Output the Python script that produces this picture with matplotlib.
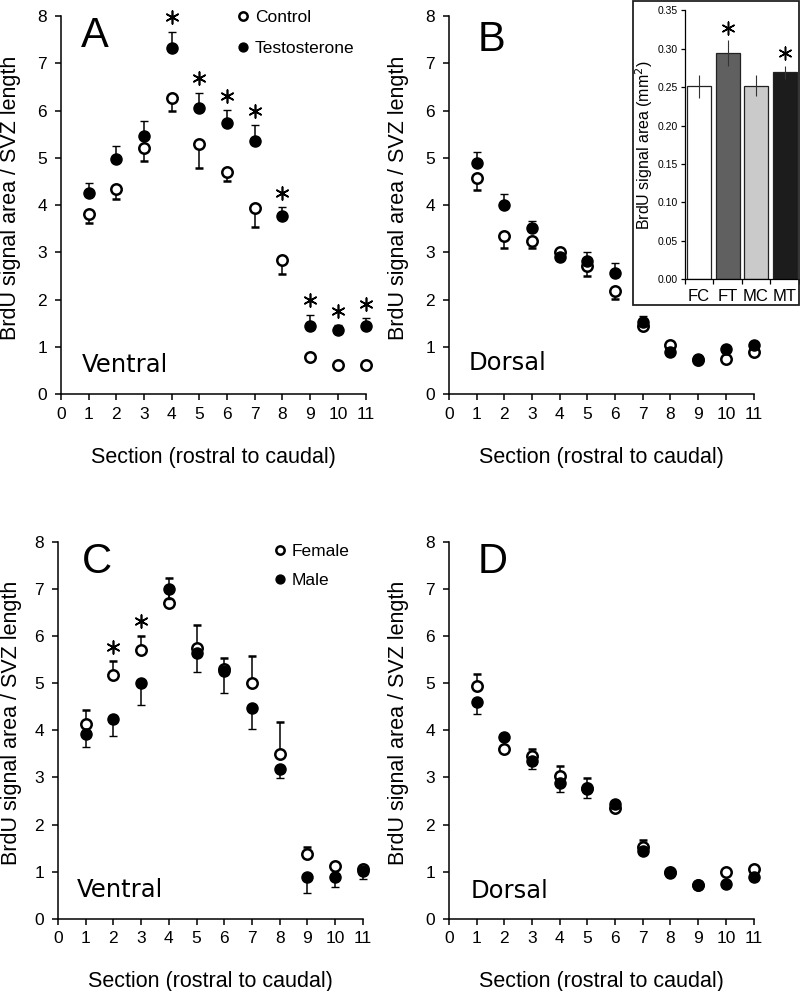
import matplotlib
matplotlib.use("Agg")
import matplotlib.pyplot as plt
from matplotlib.patches import Rectangle
import numpy as np

plt.rcParams['font.family'] = ['Liberation Sans', 'DejaVu Sans']

sections = np.arange(1, 12)

# Panel A - ventral, control vs testosterone
a_ctrl = [3.81, 4.33, 5.21, 6.26, 5.29, 4.70, 3.94, 2.84, 0.78, 0.61, 0.61]
a_ctrl_err = [0.18, 0.20, 0.27, 0.28, 0.51, 0.20, 0.40, 0.30, 0.05, 0.03, 0.03]
a_test = [4.25, 4.98, 5.46, 7.33, 6.06, 5.74, 5.36, 3.77, 1.45, 1.36, 1.45]
a_test_err = [0.21, 0.27, 0.32, 0.34, 0.32, 0.27, 0.33, 0.18, 0.23, 0.10, 0.15]
a_sig = [4, 5, 6, 7, 8, 9, 10, 11]

# Panel B - dorsal, control vs testosterone
b_ctrl = [4.57, 3.35, 3.23, 3.00, 2.70, 2.18, 1.44, 1.04, 0.73, 0.75, 0.90]
b_ctrl_err = [0.26, 0.26, 0.14, 0.05, 0.21, 0.17, 0.05, 0.04, 0.03, 0.04, 0.04]
b_test = [4.88, 4.00, 3.51, 2.89, 2.82, 2.57, 1.52, 0.90, 0.74, 0.96, 1.04]
b_test_err = [0.24, 0.23, 0.16, 0.05, 0.18, 0.20, 0.14, 0.04, 0.03, 0.04, 0.06]
b_sig = []

# Panel C - ventral, female vs male
c_fem = [4.13, 5.17, 5.70, 6.69, 5.75, 5.30, 5.01, 3.50, 1.38, 1.13, 1.06]
c_fem_err = [0.30, 0.29, 0.31, 0.53, 0.48, 0.24, 0.57, 0.68, 0.14, 0.05, 0.05]
c_male = [3.92, 4.25, 5.00, 6.99, 5.65, 5.26, 4.47, 3.18, 0.90, 0.88, 1.02]
c_male_err = [0.27, 0.37, 0.47, 0.20, 0.41, 0.46, 0.44, 0.20, 0.35, 0.21, 0.17]
c_sig = [2, 3]

# Panel D - dorsal, female vs male
d_fem = [4.94, 3.60, 3.46, 3.03, 2.77, 2.35, 1.53, 1.00, 0.71, 1.00, 1.06]
d_fem_err = [0.25, 0.05, 0.14, 0.21, 0.21, 0.05, 0.14, 0.04, 0.03, 0.04, 0.04]
d_male = [4.59, 3.85, 3.35, 2.88, 2.76, 2.43, 1.45, 0.98, 0.72, 0.745, 0.90]
d_male_err = [0.25, 0.05, 0.16, 0.18, 0.19, 0.05, 0.05, 0.04, 0.03, 0.04, 0.04]
d_sig = []

# Inset - total BrdU signal area
inset_groups = ['FC', 'FT', 'MC', 'MT']
inset_vals = [0.251, 0.294, 0.252, 0.2695]
inset_err = [0.015, 0.017, 0.014, 0.0085]
inset_colors = ['#ffffff', '#606060', '#cacaca', '#1c1c1c']
inset_sig = ['FT', 'MT']


def draw_panel(ax, open_v, open_e, fill_v, fill_e, open_up, sig,
               letter, letter_xy, region, region_xy, ylabel_x=-0.13,
               legend_labels=None, legend_xy=None, legend_spacing=0.6):
    open_v, open_e = np.array(open_v), np.array(open_e)
    fill_v, fill_e = np.array(fill_v), np.array(fill_e)
    zero = np.zeros_like(open_e)
    open_yerr = [zero, open_e] if open_up else [open_e, zero]
    fill_yerr = [fill_e, zero] if open_up else [zero, fill_e]

    style = dict(ecolor='black', elinewidth=1.1, capsize=2.8, capthick=1.1,
                 linestyle='none', marker='o', clip_on=False)
    opn = ax.errorbar(sections, open_v, yerr=open_yerr, mfc='white', mec='black',
                      mew=1.8, markersize=7.5, zorder=2, **style)
    fill = ax.errorbar(sections, fill_v, yerr=fill_yerr, mfc='black', mec='black',
                       mew=1.0, markersize=8, zorder=3, **style)

    if sig:
        idx = np.array(sig) - 1
        top_open = open_v + (open_e if open_up else 0)
        top_fill = fill_v + (0 if open_up else fill_e)
        star_y = np.maximum(top_open, top_fill)[idx] + 0.3
        ax.scatter(np.array(sig), star_y, marker=(6, 2, 0), s=85, c='black',
                   linewidths=1.2, zorder=4, clip_on=False)

    ax.set_xlim(0, 11)
    ax.set_ylim(0, 8)
    ax.set_xticks(range(0, 12))
    ax.set_yticks(range(0, 9))
    for side in ('top', 'right'):
        ax.spines[side].set_visible(False)
    for side in ('left', 'bottom'):
        ax.spines[side].set_linewidth(1.1)
    ax.tick_params(direction='out', length=4, width=1.1, labelsize=12.5)
    ax.tick_params(axis='y', pad=6)
    ax.tick_params(axis='x', pad=5)
    ax.set_xlabel('Section (rostral to caudal)', fontsize=15.5, labelpad=18)
    ax.set_ylabel('BrdU signal area / SVZ length', fontsize=15.5)
    ax.yaxis.set_label_coords(ylabel_x, 0.52)

    ax.text(letter_xy[0], letter_xy[1], letter, transform=ax.transAxes,
            fontsize=30, ha='left', va='top')
    ax.text(region_xy[0], region_xy[1], region, transform=ax.transAxes,
            fontsize=17.5, family='DejaVu Sans', ha='left', va='baseline')

    if legend_labels:
        ax.legend([opn[0], fill[0]], legend_labels, loc='upper left',
                  bbox_to_anchor=legend_xy, frameon=False, fontsize=12.5,
                  markerscale=0.8, handlelength=0.6, handletextpad=0.4,
                  borderpad=0, borderaxespad=0, labelspacing=legend_spacing)


fig = plt.figure(figsize=(8, 9.91), dpi=100)

ax_a = fig.add_axes([0.076, 0.6024, 0.381, 0.3814])
ax_b = fig.add_axes([0.561, 0.6024, 0.381, 0.3814])
ax_c = fig.add_axes([0.0725, 0.0727, 0.381, 0.3807])
ax_d = fig.add_axes([0.561, 0.0727, 0.381, 0.3807])

draw_panel(ax_a, a_ctrl, a_ctrl_err, a_test, a_test_err, False, a_sig,
           'A', (0.065, 1.0), 'Ventral', (0.069, 0.058), -0.13,
           ['Control', 'Testosterone'], (0.58, 1.017), 0.95)
draw_panel(ax_b, b_ctrl, b_ctrl_err, b_test, b_test_err, False, b_sig,
           'B', (0.095, 0.99), 'Dorsal', (0.066, 0.063), -0.13)
draw_panel(ax_c, c_fem, c_fem_err, c_male, c_male_err, True, c_sig,
           'C', (0.078, 1.0), 'Ventral', (0.063, 0.058), -0.117,
           ['Female', 'Male'], (0.711, 0.995), 0.8)
draw_panel(ax_d, d_fem, d_fem_err, d_male, d_male_err, True, d_sig,
           'D', (0.094, 1.0), 'Dorsal', (0.072, 0.056), -0.13)

# inset bar chart inside panel B
fig.patches.append(Rectangle((0.791, 0.6922), 0.2075, 0.3068, transform=fig.transFigure,
                             fill=False, edgecolor='#222222', linewidth=1.3))
ax_in = fig.add_axes([0.856, 0.7185, 0.1425, 0.271])
xpos = np.arange(len(inset_groups))
ax_in.bar(xpos, inset_vals, width=0.84, color=inset_colors, edgecolor='#222222',
          linewidth=0.9, yerr=inset_err,
          error_kw=dict(ecolor='#333333', elinewidth=0.8, capsize=0))
for g in inset_sig:
    i = inset_groups.index(g)
    ax_in.scatter(i, inset_vals[i] + inset_err[i] + 0.016, marker=(6, 2, 0), s=85,
                  c='black', linewidths=1.1, zorder=4, clip_on=False)
ax_in.set_xlim(-0.5, 3.5)
ax_in.set_ylim(0, 0.35)
yt = np.arange(0, 0.351, 0.05)
ax_in.set_yticks(yt)
ax_in.set_yticklabels([f'{v:.2f}' for v in yt])
ax_in.set_xticks(np.arange(-0.5, 3.6, 1.0))
ax_in.set_xticklabels([])
ax_in.set_xticks(xpos, minor=True)
ax_in.set_xticklabels(inset_groups, minor=True)
ax_in.tick_params(axis='x', which='major', direction='out', length=3.5, width=0.9)
ax_in.tick_params(axis='x', which='minor', length=0, pad=7, labelsize=12)
ax_in.tick_params(axis='y', direction='out', length=3, width=0.9, labelsize=7.5, pad=2)
for side in ('top', 'right'):
    ax_in.spines[side].set_visible(False)
for side in ('left', 'bottom'):
    ax_in.spines[side].set_linewidth(0.9)
ax_in.set_ylabel('BrdU signal area (mm$^2$)', fontsize=11.5, labelpad=2)

fig.savefig('out.png', dpi=100)
